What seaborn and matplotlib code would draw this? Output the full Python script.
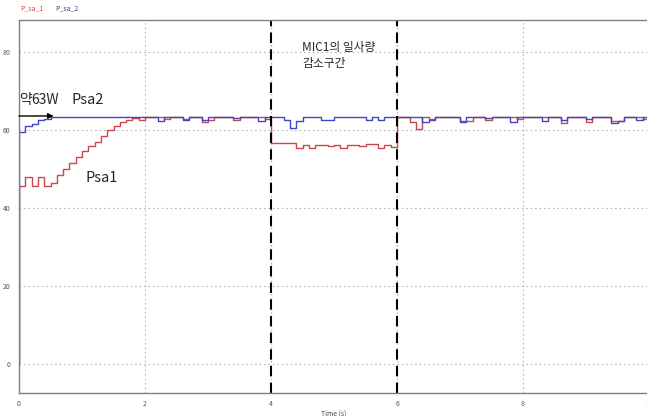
import numpy as np
import matplotlib
matplotlib.use("Agg")
import matplotlib.pyplot as plt
import seaborn as sns
import pandas as pd

# sample times (s), 0.1 s steps; first point is the start-up value
time_s = [0.0] + [round(0.1 * i, 1) for i in range(101)]

psa1 = [0.0,
        45.6, 48.0, 45.6, 48.0, 45.6, 46.5, 48.5, 50.0, 51.5, 53.0,
        54.5, 56.0, 57.0, 58.5, 60.0, 61.0, 62.0, 62.5, 63.0, 62.6,
        63.3, 63.3, 63.3, 62.8, 63.3, 63.3, 62.8, 63.3, 63.3, 62.0,
        62.5, 63.3, 63.3, 63.3, 62.5, 63.3, 63.3, 63.3, 63.3, 62.8,
        56.6, 56.6, 56.6, 56.6, 55.4, 56.2, 55.4, 56.2, 56.2, 55.8,
        56.2, 55.4, 56.2, 56.2, 55.8, 56.4, 56.4, 55.4, 56.2, 55.6,
        63.3, 63.3, 62.0, 60.3, 63.3, 62.8, 63.3, 63.3, 63.3, 63.3,
        62.3, 62.3, 63.3, 63.3, 62.5, 63.3, 63.3, 63.3, 63.3, 62.8,
        63.3, 63.3, 63.3, 63.3, 63.3, 63.3, 61.8, 63.3, 63.3, 63.3,
        62.0, 63.3, 63.3, 63.3, 62.3, 62.3, 63.3, 63.3, 63.3, 62.8,
        63.3]

psa2 = [0.0,
        59.5, 61.0, 61.5, 62.5, 62.8, 63.3, 63.3, 63.3, 63.3, 63.3,
        63.3, 63.3, 63.3, 63.3, 63.3, 63.3, 63.3, 63.3, 63.3, 63.3,
        63.3, 63.3, 62.3, 63.3, 63.3, 63.3, 62.5, 63.3, 63.3, 62.5,
        63.3, 63.3, 63.3, 63.3, 63.0, 63.3, 63.3, 63.3, 62.3, 63.3,
        63.3, 63.3, 62.5, 60.6, 62.3, 63.3, 63.3, 63.3, 62.5, 62.5,
        63.3, 63.3, 63.3, 63.3, 63.3, 62.5, 63.3, 62.5, 63.3, 63.3,
        63.3, 63.3, 63.3, 63.3, 62.0, 62.5, 63.3, 63.3, 63.3, 63.3,
        62.0, 63.3, 63.3, 63.3, 63.0, 63.3, 63.3, 63.3, 62.0, 63.3,
        63.3, 63.3, 63.3, 62.3, 63.3, 63.3, 62.5, 63.3, 63.3, 63.3,
        62.8, 63.3, 63.3, 63.3, 61.8, 62.3, 63.3, 63.3, 62.5, 63.3,
        63.3]

x_ticks = [0, 2, 4, 6, 8, 10]
y_ticks = [0, 20, 40, 60, 80]
dip_start, dip_end = 4, 6

df = pd.DataFrame({"t": time_s, "P_sa_1": psa1, "P_sa_2": psa2})

sns.set_style("white")
plt.rcParams["font.family"] = ["Noto Sans CJK KR", "DejaVu Sans"]
kr = "Noto Sans CJK KR"

fig = plt.figure(figsize=(6.47, 4.16), dpi=100)
ax = fig.add_axes([19 / 647, 23 / 416, 630 / 647, 373 / 416])

sns.lineplot(data=df, x="t", y="P_sa_1", ax=ax, color="#c8484c", lw=1.0,
             drawstyle="steps-post", estimator=None, sort=False)
sns.lineplot(data=df, x="t", y="P_sa_2", ax=ax, color="#4048c0", lw=1.0,
             drawstyle="steps-post", estimator=None, sort=False)

ax.set_xlim(0, 10)
ax.set_ylim(-7.4, 88.2)
ax.set_xticks(x_ticks)
ax.set_yticks(y_ticks)
ax.tick_params(labelsize=5, colors="#555555", length=0)
ax.tick_params(axis="x", pad=5)
ax.tick_params(axis="y", pad=6)
ax.grid(True, linestyle=(0, (1.5, 2.5)), color="#b8b8b8", lw=0.8)
for s in ax.spines.values():
    s.set_color("#808080")
    s.set_linewidth(1.0)
ax.set_xlabel("Time (s)", fontsize=5, color="#444444", labelpad=1)
ax.set_ylabel("")

for xv in (dip_start, dip_end):
    ax.axvline(xv, color="black", lw=1.5, linestyle=(0, (5, 3)))

ax.annotate("", xy=(0.55, 63.6), xytext=(0, 63.6),
            arrowprops=dict(arrowstyle="-|>", color="black", lw=1.0,
                            mutation_scale=8, shrinkA=0, shrinkB=0))
# "약" and "63W" drawn as two pieces to avoid a bad kerning pair
t_yak = ax.text(0.0, 66.0, "약", fontsize=10, va="bottom", ha="left",
                family=kr)
ax.annotate("63W", xy=(1, 0), xycoords=t_yak, va="bottom", ha="left",
            fontsize=10, family=kr)
ax.text(0.84, 65.8, "Psa2", fontsize=10.5, va="bottom", ha="left", family=kr)
ax.text(1.05, 47.7, "Psa1", fontsize=10.5, va="center", ha="left", family=kr)
ax.text(4.5, 82.8, "MIC1의 일사량\n감소구간", fontsize=8.5, va="top",
        ha="left", linespacing=1.3, family=kr)

fig.text(20 / 647, 1 - 8 / 416, "P_sa_1", fontsize=5, color="#d04040",
         va="center")
fig.text(55 / 647, 1 - 8 / 416, "P_sa_2", fontsize=5, color="#404090",
         va="center")

fig.savefig("out.png", dpi=100)
